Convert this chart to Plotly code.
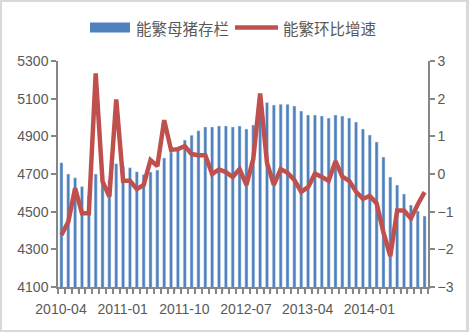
import plotly.graph_objects as go

# Monthly observations, 2010-04 .. 2014-09
months = [
    "2010-04", "2010-05", "2010-06", "2010-07", "2010-08", "2010-09", "2010-10", "2010-11", "2010-12",
    "2011-01", "2011-02", "2011-03", "2011-04", "2011-05", "2011-06", "2011-07", "2011-08", "2011-09",
    "2011-10", "2011-11", "2011-12", "2012-01", "2012-02", "2012-03", "2012-04", "2012-05", "2012-06",
    "2012-07", "2012-08", "2012-09", "2012-10", "2012-11", "2012-12", "2013-01", "2013-02", "2013-03",
    "2013-04", "2013-05", "2013-06", "2013-07", "2013-08", "2013-09", "2013-10", "2013-11", "2013-12",
    "2014-01", "2014-02", "2014-03", "2014-04", "2014-05", "2014-06", "2014-07", "2014-08", "2014-09",
]

# 能繁母猪存栏 (万头)
sow_stock = [
    4760, 4700, 4680, 4633, 4585, 4700, 4695, 4668, 4755,
    4742, 4733, 4712, 4697, 4710, 4721, 4785, 4817, 4835,
    4880, 4906, 4930, 4950, 4950, 4955, 4955, 4950, 4955,
    4939, 4960, 5066, 5079, 5066, 5071, 5071, 5061, 5034,
    5013, 5013, 5008, 4997, 5013, 5008, 4997, 4976, 4939,
    4907, 4870, 4790, 4684, 4641, 4594, 4535, 4503, 4477,
]

# 能繁环比增速 (%)
mom_growth = [
    -1.62, -1.27, -0.38, -1.04, -1.04, 2.67, -0.20, -0.60, 1.98,
    -0.18, -0.18, -0.40, -0.29, 0.37, 0.21, 1.43, 0.64, 0.66,
    0.74, 0.53, 0.50, 0.50, 0.00, 0.12, 0.05, -0.08, 0.13,
    -0.29, 0.40, 2.14, 0.30, -0.29, 0.13, 0.03, -0.16, -0.47,
    -0.35, 0.01, -0.08, -0.18, 0.34, -0.07, -0.18, -0.47, -0.66,
    -0.58, -0.78, -1.55, -2.18, -0.97, -0.97, -1.18, -0.81, -0.48,
]

left_ticks = [4100, 4300, 4500, 4700, 4900, 5100, 5300]
right_ticks = [-3, -2, -1, 0, 1, 2, 3]
label_step = 9

BLUE = "#4f81bd"
RED = "#c0504d"
AXIS = "#868686"
TEXT = "#595959"
NUM_FONT = "Liberation Sans"
CJK_FONT = "Noto Sans CJK SC"

W, H = 469, 332
ML, MR, MT, MB = 58, 41, 61, 45
PW, PH = W - ML - MR, H - MT - MB
TICK_LEN = 5

n = len(months)
xs = list(range(n))
x_range = [-0.5, n - 0.5]
# tick marks sit on the month boundaries; every 9th carries the label of the month after it
boundaries = [i - 0.5 for i in range(n + 1)]
boundary_text = [months[i] if (i < n and i % label_step == 0) else "" for i in range(n + 1)]
half_slot_px = round(PW / n / 2)

fig = go.Figure()
fig.add_trace(go.Bar(x=xs, y=sow_stock, name="能繁母猪存栏", marker_color=BLUE,
                     width=0.46, yaxis="y"))
fig.add_trace(go.Scatter(x=xs, y=mom_growth, name="能繁环比增速", mode="lines",
                         line=dict(color=RED, width=4.5), yaxis="y2"))


def px_x(p):
    return (p - ML) / PW


def px_y(p):
    return 1 - (p - MT) / PH


shapes = [
    # white card over the grey surround
    dict(type="rect", xref="paper", yref="paper", layer="below",
         x0=px_x(2), x1=px_x(466), y0=px_y(330), y1=px_y(2),
         fillcolor="white", line=dict(width=0)),
    # legend keys
    dict(type="rect", xref="paper", yref="paper",
         x0=px_x(90), x1=px_x(130), y0=px_y(32.5), y1=px_y(22.5),
         fillcolor=BLUE, line=dict(width=0)),
    dict(type="line", xref="paper", yref="paper",
         x0=px_x(235), x1=px_x(278), y0=px_y(27.5), y1=px_y(27.5),
         line=dict(color=RED, width=4.5)),
]
# month tick marks hanging below the category axis
for b in boundaries:
    shapes.append(dict(type="line", xref="x", yref="paper",
                       x0=b, x1=b, y0=0, y1=-TICK_LEN / PH,
                       line=dict(color=AXIS, width=1.5)))

annotations = [
    dict(text="能繁母猪存栏", xref="paper", yref="paper", x=px_x(134), y=px_y(27.5),
         xanchor="left", yanchor="middle", showarrow=False,
         font=dict(family=CJK_FONT, size=15.5, color=TEXT)),
    dict(text="能繁环比增速", xref="paper", yref="paper", x=px_x(281), y=px_y(27.5),
         xanchor="left", yanchor="middle", showarrow=False,
         font=dict(family=CJK_FONT, size=15.5, color=TEXT)),
]

fig.update_layout(
    width=W, height=H,
    margin=dict(l=ML, r=MR, t=MT, b=MB, pad=0),
    paper_bgcolor="#d9d9d9",
    plot_bgcolor="white",
    showlegend=False,
    bargap=0.5,
    shapes=shapes,
    annotations=annotations,
    font=dict(family=NUM_FONT, size=14, color=TEXT),
    xaxis=dict(
        range=x_range,
        tickmode="array", tickvals=boundaries, ticktext=boundary_text,
        ticklabelshift=half_slot_px, ticklabelstandoff=3,
        ticks="outside", ticklen=TICK_LEN, tickwidth=1.5, tickcolor=AXIS,
        showgrid=False, zeroline=False,
        showline=True, linecolor=AXIS, linewidth=1.5,
        tickfont=dict(family=NUM_FONT, size=14, color=TEXT),
    ),
    yaxis=dict(
        range=[4100, 5300], tickmode="array", tickvals=left_ticks,
        ticks="outside", ticklen=TICK_LEN, tickwidth=1.5, tickcolor=AXIS,
        showline=True, linecolor=AXIS, linewidth=1.5,
        showgrid=False, zeroline=False,
        tickfont=dict(family=NUM_FONT, size=14, color=TEXT),
    ),
    yaxis2=dict(
        range=[-3, 3], tickmode="array", tickvals=right_ticks,
        overlaying="y", side="right",
        ticks="outside", ticklen=TICK_LEN, tickwidth=1.5, tickcolor=AXIS,
        showline=True, linecolor=AXIS, linewidth=1.5,
        showgrid=False, zeroline=False,
        tickfont=dict(family=NUM_FONT, size=14, color=TEXT),
    ),
)

fig.write_html("out.html")
